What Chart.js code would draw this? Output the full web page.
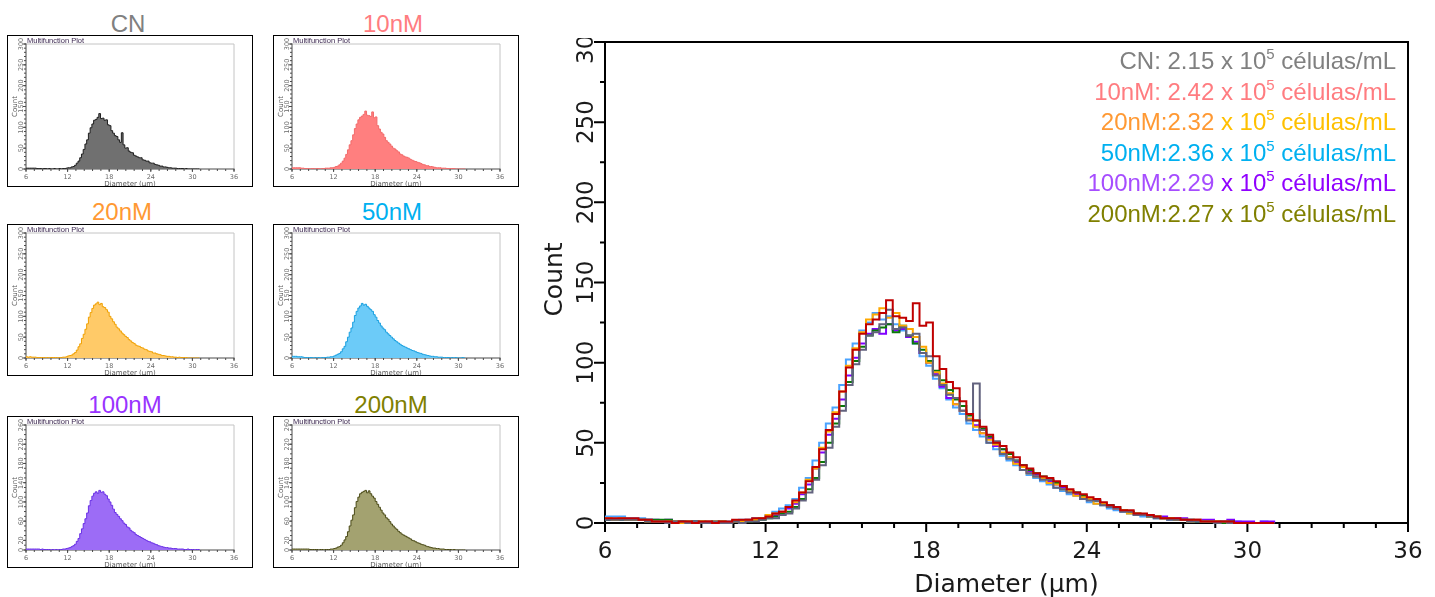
<!DOCTYPE html>
<html><head><meta charset="utf-8">
<script src="https://cdn.jsdelivr.net/npm/chart.js@4.4.1/dist/chart.umd.min.js"></script>
<style>
html,body{margin:0;padding:0;background:#fff;width:1435px;height:597px;overflow:hidden;position:relative;font-family:'Liberation Sans',Arial,sans-serif}
.box{position:absolute;border:1px solid #000;box-sizing:border-box;width:246px;height:152px;background:#fff}
.box canvas{display:block}
.ttl{position:absolute;width:200px;text-align:center;font-size:24px;line-height:24px;white-space:nowrap}
#mainWrap{position:absolute;left:530px;top:0;width:905px;height:597px}
#legend{position:absolute;right:39px;top:47px;text-align:right;font-size:24px;line-height:27.6px;white-space:nowrap}
.sup{font-size:15px;position:relative;top:-10px}
</style></head>
<body>
<div id="mainWrap"><canvas id="main" width="905" height="597"></canvas></div>
<div id="legend"></div>
<script>
// ---------------- DATA ----------------
const groups = ['CN','10nM','20nM','50nM','100nM','200nM'];
const legendPrefixes = ['CN: 2.15','10nM: 2.42','20nM:2.32','50nM:2.36','100nM:2.29','200nM:2.27'];
const legendSuffix = ' x 10';
const legendExponent = '5';
const legendUnit = ' células/mL';
const xTickLabels = [6,12,18,24,30,36];
const yTickLabelsMain = [0,50,100,150,200,250,300];
const yTickLabelsSmall = [0,50,100,150,200,250,300];
const yTickLabelsSmallRow3 = [0,20,60,100,140,180,220,260];
const xTitle = 'Diameter (µm)';
const yTitle = 'Count';
const smallNote = 'Multifunction Plot';

const diameters = [6,6.25,6.5,6.75,7,7.25,7.5,7.75,8,8.25,8.5,8.75,9,9.25,9.5,9.75,10,10.25,10.5,10.75,11,11.25,11.5,11.75,12,12.25,12.5,12.75,13,13.25,13.5,13.75,14,14.25,14.5,14.75,15,15.25,15.5,15.75,16,16.25,16.5,16.75,17,17.25,17.5,17.75,18,18.25,18.5,18.75,19,19.25,19.5,19.75,20,20.25,20.5,20.75,21,21.25,21.5,21.75,22,22.25,22.5,22.75,23,23.25,23.5,23.75,24,24.25,24.5,24.75,25,25.25,25.5,25.75,26,26.25,26.5,26.75,27,27.25,27.5,27.75,28,28.25,28.5,28.75,29,29.25,29.5,29.75,30,30.25,30.5,30.75,31];

const countCN = [2,2,2,2, 2,2,1,1, 1,0,1,1, 0,1,0,0, 1,0,0,1, 0,1,1,2, 3,3,5,6, 9,14,19,27, 36,47,60,70, 86,99,108,117, 119,124,133,121, 122,117,118,106, 104,92,86,80, 78,70,64,87, 58,50,51,43, 40,39,33,31, 29,27,27,22, 21,19,19,15, 14,14,11,10, 9,7,7,5, 5,4,3,3, 2,2,2,1, 1,1,1,0, 1,0,0,0, 0,0,0,0, 0];
const count10nM = [3,3,3,3, 3,2,2,1, 1,1,0,1, 1,0,1,1, 0,1,1,2, 2,2,3,3, 4,6,7,10, 14,19,26,35, 46,58,68,82, 97,108,118,124, 127,131,139,129, 128,126,137,123, 125,104,96,88, 84,76,68,64, 60,55,50,48, 44,41,36,34, 31,29,28,26, 23,21,19,18, 16,15,13,11, 10,8,8,6, 6,5,4,3, 3,3,2,2, 2,1,1,1, 1,1,0,0, 0,0,0,0, 0];
const count20nM = [3,2,3,2, 2,2,1,1, 1,1,1,0, 1,0,1,1, 1,1,0,1, 1,2,2,3, 5,6,7,10, 13,19,27,34, 47,57,69,82, 98,109,119,127, 130,134,128,131, 123,121,116,110, 100,94,87,81, 74,70,65,60, 56,52,49,44, 41,37,35,31, 29,28,25,24, 21,20,17,16, 15,12,12,10, 9,8,6,6, 5,4,4,3, 3,2,2,1, 2,1,1,1, 1,0,0,0, 0,0,0,0, 0];
const count50nM = [4,4,4,3, 3,3,2,1, 1,1,1,1, 0,1,0,1, 0,1,1,1, 2,2,3,3, 5,7,9,11, 15,22,28,39, 50,62,72,86, 102,112,120,125, 131,127,129,124, 120,116,112,104, 98,90,84,77, 72,68,62,58, 54,50,46,42, 39,36,33,30, 28,26,24,22, 20,18,17,15, 13,12,11,9, 8,7,6,5, 4,4,3,3, 2,2,2,1, 1,1,1,0, 1,0,1,0, 0,0,1,0, 0];
const count100nM = [2,2,2,2, 2,2,2,2, 1,2,1,1, 1,1,0,1, 0,1,0,1, 1,2,2,3, 4,5,7,9, 12,18,24,34, 44,55,65,77, 92,103,112,118, 121,118,124,120, 121,116,113,106, 100,93,85,78, 74,70,65,61, 56,53,48,46, 41,38,36,32, 30,28,26,24, 22,20,18,17, 15,14,12,11, 9,8,7,6, 5,5,4,4, 3,3,3,2, 2,2,2,1, 1,2,1,1, 1,0,1,1, 0];
const count200nM = [2,2,2,2, 2,2,2,2, 2,2,1,1, 1,1,1,0, 1,1,0,1, 1,1,2,2, 3,4,6,7, 10,15,21,28, 38,50,62,73, 88,101,110,117, 120,122,124,119, 123,117,112,108, 101,95,89,83, 77,73,67,64, 59,54,50,46, 43,39,36,33, 31,29,27,25, 23,20,19,17, 15,14,12,11, 10,8,7,6, 5,4,4,3, 3,2,2,2, 1,1,1,1, 0,1,0,0, 0,0,0,0, 0];

const seriesCounts = [countCN, count10nM, count20nM, count50nM, count100nM, count200nM];

// ---------------- STYLE ----------------
const lineColors  = ['#62627e','#c00000','#ffa800','#4aa3ff','#8000ff','#0a780a'];
const lineOrder   = [1,0,2,5,4,3];
const titleColors = ['#808080','#ff7c80','#ff9933','#00b0f0','#9933ff','#808000'];
const legendColA  = ['#808080','#ff7c80','#ff9933','#00b0f0','#a64dff','#808000'];
const legendColB  = ['#808080','#ff7c80','#ffc000','#00b0f0','#9000ff','#808000'];
const fillColors  = ['#707070','#ff7f7f','#ffca68','#6ccbf8','#9c6cf6','#a3a270'];
const edgeColors  = ['#1e1e1e','#f26b6b','#f0a000','#1aa0e0','#6a30e6','#4a4a16'];
const smallBoxes  = [{l:7,t:35},{l:273,t:35},{l:7,t:224},{l:273,t:224},{l:7,t:416},{l:273,t:416}];
const titleCenters = [128,393,122,392,125,391];

function range(a,b,s){const r=[];for(let v=a;v<=b+1e-9;v+=s)r.push(Math.round(v*1000)/1000);return r;}

const decor = {
  id:'decor',
  beforeDatasetsDraw(chart,args,o){
    const {ctx, chartArea:a, scales:{x,y}} = chart;
    ctx.save();
    ctx.lineCap='butt';
    ctx.strokeStyle=o.frameColor; ctx.lineWidth=o.frameWidth;
    ctx.beginPath(); ctx.moveTo(a.left,a.top); ctx.lineTo(a.right,a.top); ctx.lineTo(a.right,a.bottom); ctx.stroke();
    ctx.strokeStyle=o.axisColor; ctx.lineWidth=o.axisWidth;
    ctx.beginPath(); ctx.moveTo(a.left,a.top-o.frameWidth/2); ctx.lineTo(a.left,a.bottom); ctx.lineTo(a.right+o.frameWidth/2,a.bottom); ctx.stroke();
    ctx.lineWidth=o.tickWidth; ctx.strokeStyle=o.axisColor;
    ctx.beginPath();
    for(const v of o.xMinor){const p=x.getPixelForValue(v);ctx.moveTo(p,a.bottom);ctx.lineTo(p,a.bottom+o.xMinorLen);}
    for(const v of o.xMajor){const p=x.getPixelForValue(v);ctx.moveTo(p,a.bottom);ctx.lineTo(p,a.bottom+o.xMajorLen);}
    for(const v of o.yMinor){const p=y.getPixelForValue(v);ctx.moveTo(a.left,p);ctx.lineTo(a.left-o.yMinorLen,p);}
    for(const v of o.yMajor){const p=y.getPixelForValue(v);ctx.moveTo(a.left,p);ctx.lineTo(a.left-o.yMajorLen,p);}
    ctx.stroke();
    ctx.restore();
  },
  afterDraw(chart,args,o){
    const {ctx, chartArea:a, scales:{x,y}} = chart;
    ctx.save();
    ctx.beginPath(); ctx.rect(0,o.clipTop||0,chart.width,chart.height); ctx.clip();
    ctx.fillStyle=o.labelColor; ctx.font=o.tickFont; ctx.textAlign='center'; ctx.textBaseline='alphabetic';
    for(const v of o.xLabels){ctx.fillText(String(v),x.getPixelForValue(v),a.bottom+o.xLabelOff);}
    for(const v of o.yLabels){
      ctx.save(); ctx.translate(a.left-o.yLabelOff,y.getPixelForValue(v)); ctx.rotate(-Math.PI/2);
      ctx.fillText(String(v),0,0); ctx.restore();
    }
    ctx.fillStyle=o.titleColor; ctx.font=o.titleFont;
    ctx.fillText(o.xTitle,(a.left+a.right)/2,a.bottom+o.xTitleOff);
    ctx.save(); ctx.translate(a.left-o.yTitleOff,(a.top+a.bottom)/2+(o.yTitleShift||0)); ctx.rotate(-Math.PI/2);
    ctx.fillText(o.yTitle,0,0); ctx.restore();
    if(o.note){ctx.font=o.noteFont;ctx.fillStyle=o.noteColor;ctx.textAlign='left';ctx.fillText(o.note,a.left+1,a.top-1);}
    ctx.restore();
  }
};

function fixedScales(xH,yW,xMax,yMax){
  return {
    x:{type:'linear',min:6,max:xMax,display:true,ticks:{display:false},grid:{display:false},border:{display:false},afterFit:s=>{s.height=xH;}},
    y:{type:'linear',min:0,max:yMax,display:true,ticks:{display:false},grid:{display:false},border:{display:false},afterFit:s=>{s.width=yW;}}
  };
}

// ---------------- MAIN CHART ----------------
new Chart(document.getElementById('main'),{
  type:'line',
  data:{datasets:groups.map((g,i)=>({
    label:g,
    data:diameters.map((d,k)=>({x:d,y:seriesCounts[i][k]})),
    borderColor:lineColors[i], borderWidth:2, pointRadius:0, fill:false,
    stepped:true, tension:0, clip:false, order:lineOrder[i]
  }))},
  options:{
    responsive:false, animation:false, devicePixelRatio:1,
    layout:{padding:{left:0,top:42,right:27,bottom:0}},
    scales:fixedScales(74,75,36,300),
    plugins:{legend:{display:false},tooltip:{enabled:false},
      decor:{frameColor:'#000',frameWidth:2,axisColor:'#000',axisWidth:2,tickWidth:2,
        xMajor:xTickLabels,xMinor:range(6,36,1.2),yMajor:yTickLabelsMain,yMinor:range(0,300,25),
        xMajorLen:9,xMinorLen:5,yMajorLen:11,yMinorLen:5,
        labelColor:'#1a1a1a',tickFont:'23px "DejaVu Sans"',xLabels:xTickLabels,yLabels:yTickLabelsMain,
        xLabelOff:35,yLabelOff:12,clipTop:38,
        titleColor:'#1a1a1a',titleFont:'25px "DejaVu Sans"',xTitle:xTitle,yTitle:yTitle,xTitleOff:69,yTitleOff:43,yTitleShift:-3}
    }
  },
  plugins:[decor]
});

// ---------------- LEGEND ----------------
const leg=document.getElementById('legend');
groups.forEach((g,i)=>{
  const d=document.createElement('div');
  const a=document.createElement('span'); a.style.color=legendColA[i]; a.textContent=legendPrefixes[i];
  const b=document.createElement('span'); b.style.color=legendColB[i];
  b.appendChild(document.createTextNode(legendSuffix));
  const s=document.createElement('span'); s.className='sup'; s.textContent=legendExponent; b.appendChild(s);
  b.appendChild(document.createTextNode(legendUnit));
  d.appendChild(a); d.appendChild(b); leg.appendChild(d);
});

// ---------------- SMALL CHARTS ----------------
groups.forEach((g,i)=>{
  const pos=smallBoxes[i];
  const t=document.createElement('div'); t.className='ttl'; t.textContent=g;
  t.style.color=titleColors[i]; t.style.left=(titleCenters[i]-100)+'px';
  t.style.top=(i<2?12:(i<4?200:393))+'px';
  document.body.appendChild(t);
  const box=document.createElement('div'); box.className='box';
  box.style.left=pos.l+'px'; box.style.top=pos.t+'px';
  const cv=document.createElement('canvas'); cv.width=244; cv.height=150;
  box.appendChild(cv); document.body.appendChild(box);
  const row3=i>=4;
  const yMax=row3?260:300;
  const yLabels=row3?yTickLabelsSmallRow3:yTickLabelsSmall;
  new Chart(cv,{
    type:'line',
    data:{datasets:[{label:g,data:diameters.map((d,k)=>({x:d,y:seriesCounts[i][k]})),
      borderColor:edgeColors[i],backgroundColor:fillColors[i],borderWidth:1,pointRadius:0,
      fill:'origin',stepped:true,tension:0}]},
    options:{
      responsive:false,animation:false,devicePixelRatio:1,
      layout:{padding:{left:0,top:8,right:18,bottom:0}},
      scales:fixedScales(17,18,36,yMax),
      plugins:{legend:{display:false},tooltip:{enabled:false},
        decor:{frameColor:'#c4c4c4',frameWidth:1,axisColor:'#4a4a4a',axisWidth:1,tickWidth:1,
          xMajor:xTickLabels,xMinor:range(6,36,1.2),yMajor:yLabels,yMinor:range(0,yMax,10),
          xMajorLen:3,xMinorLen:2,yMajorLen:3,yMinorLen:2,
          labelColor:'#6a6a6a',tickFont:'6.5px "DejaVu Sans"',xLabels:xTickLabels,yLabels:yLabels,
          xLabelOff:10,yLabelOff:3,
          titleColor:'#5a5a5a',titleFont:'7px "DejaVu Sans"',xTitle:xTitle,yTitle:yTitle,xTitleOff:16.5,yTitleOff:9.5,
          note:smallNote,noteFont:'7.5px "Liberation Sans"',noteColor:'#3c2850'}
      }
    },
    plugins:[decor]
  });
});
</script>
</body></html>
